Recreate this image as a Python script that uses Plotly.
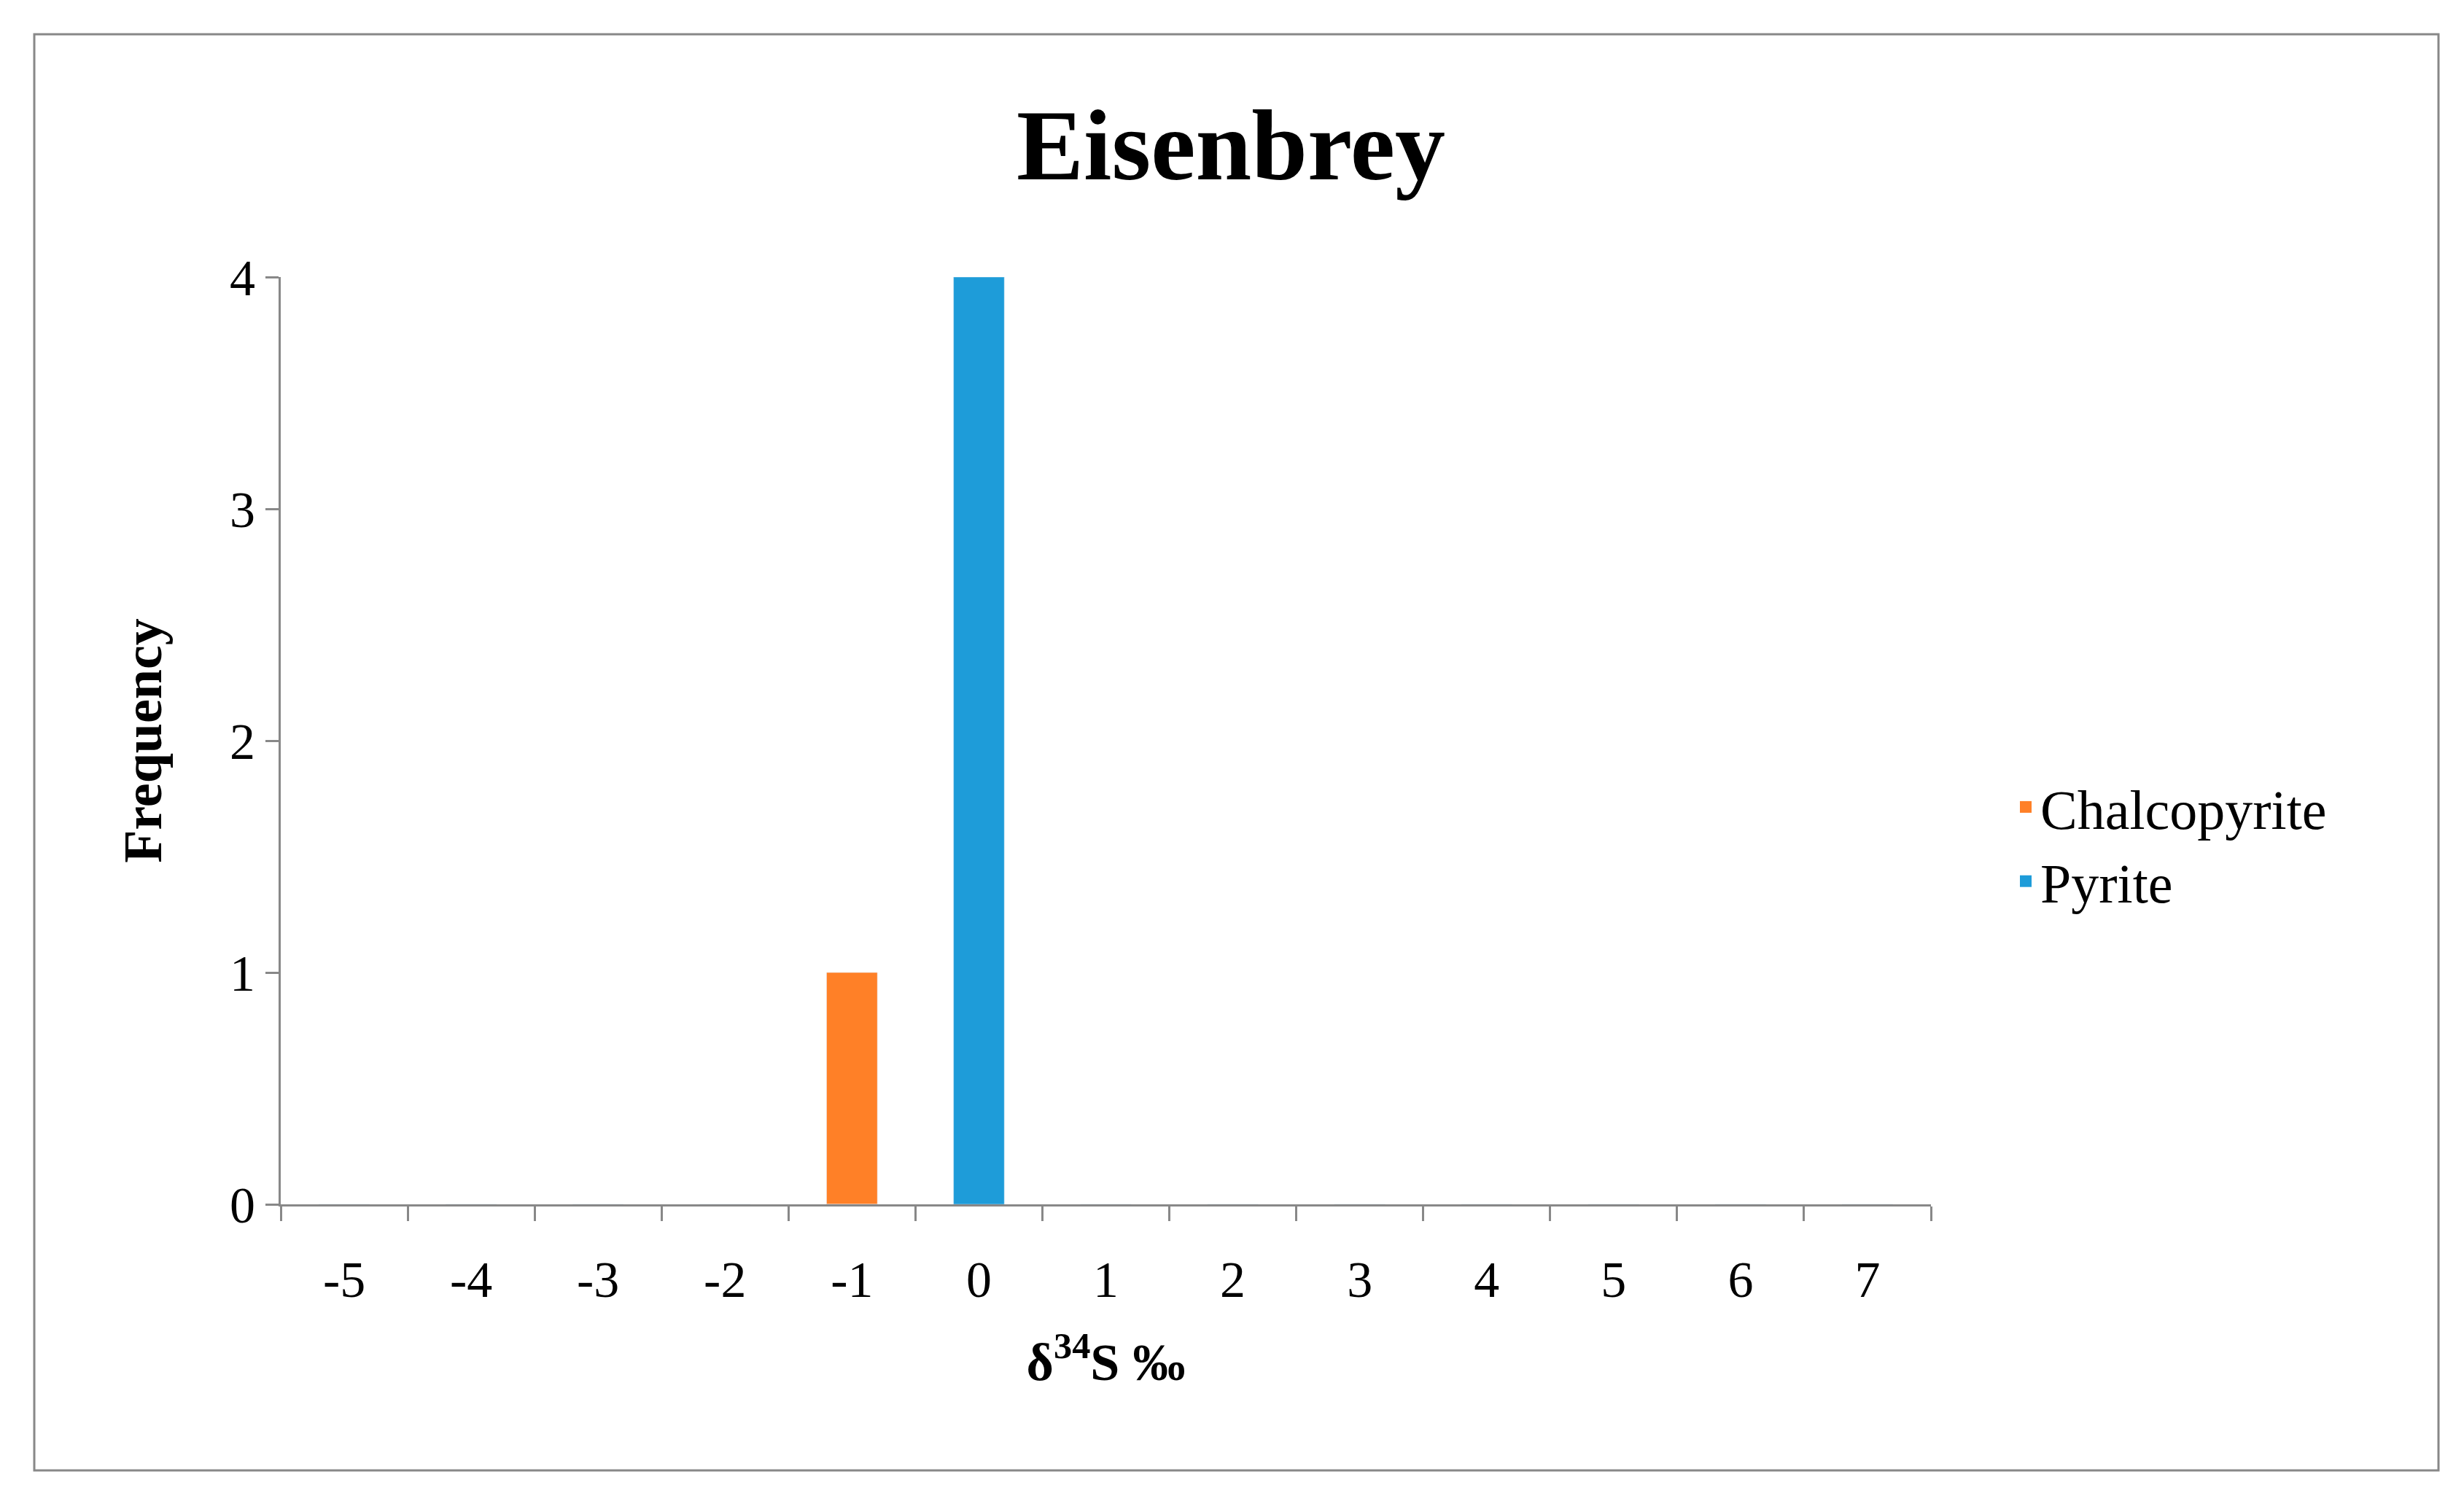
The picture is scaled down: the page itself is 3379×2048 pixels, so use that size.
import plotly.graph_objects as go

categories = ["-5","-4","-3","-2","-1","0","1","2","3","4","5","6","7"]
chalcopyrite = [0,0,0,0,1,0,0,0,0,0,0,0,0]
pyrite = [0,0,0,0,0,4,0,0,0,0,0,0,0]
colors = {"Chalcopyrite": "#FF8027", "Pyrite": "#1E9CD9"}

W, H = 3379, 2048
L, R, T, B = 377, 739, 372, 404
pw, ph = W-L-R, H-T-B
font = "Liberation Serif"

fig = go.Figure()
fig.add_bar(x=categories, y=chalcopyrite, name="Chalcopyrite", marker_color=colors["Chalcopyrite"], width=0.4, showlegend=False)
fig.add_bar(x=categories, y=pyrite, name="Pyrite", marker_color=colors["Pyrite"], width=0.4, showlegend=False)
for n in ["Chalcopyrite", "Pyrite"]:
    fig.add_scatter(x=[None], y=[None], mode="markers", name=n,
                    marker=dict(symbol="square", size=38, color=colors[n]))

fig.update_layout(
    width=W, height=H, barmode="overlay",
    margin=dict(l=L, r=R, t=T, b=B),
    plot_bgcolor="white", paper_bgcolor="white",
    font=dict(family=font, color="black"),
    title=dict(text="<b>Eisenbrey</b>", x=1680/W, xanchor="center", y=1-190/H, yanchor="middle",
               font=dict(size=138, family=font)),
    legend=dict(x=(2750-L)/pw, y=(1644-1150)/ph, xanchor="left", yanchor="middle",
                font=dict(size=76, family=font), traceorder="normal", itemwidth=30, tracegroupgap=55),
    xaxis=dict(type="category", categoryorder="array", categoryarray=categories,
               tickson="boundaries", ticks="outside", ticklen=20, tickwidth=3, tickcolor="#888",
               showline=True, linecolor="#888", linewidth=3, showgrid=False,
               tickfont=dict(size=70, family=font), ticklabelstandoff=40,
               title=dict(text="<b>δ<sup>34</sup>S ‰</b>", font=dict(size=72, family=font), standoff=50)),
    yaxis=dict(range=[0,4], tickvals=[0,1,2,3,4], ticks="outside", ticklen=18, tickwidth=3, tickcolor="#888",
               showline=True, linecolor="#888", linewidth=3, showgrid=False, zeroline=False,
               tickfont=dict(size=70, family=font),
               title=dict(text="<b>Frequency</b>", font=dict(size=74, family=font), standoff=70)),
)
fig.add_shape(type="rect", xref="paper", yref="paper",
              x0=(39-L)/pw, x1=(3336-L)/pw, y0=(1644-2009)/ph, y1=(1644-39)/ph,
              line=dict(color="#888", width=3))
fig.write_html("out.html")
